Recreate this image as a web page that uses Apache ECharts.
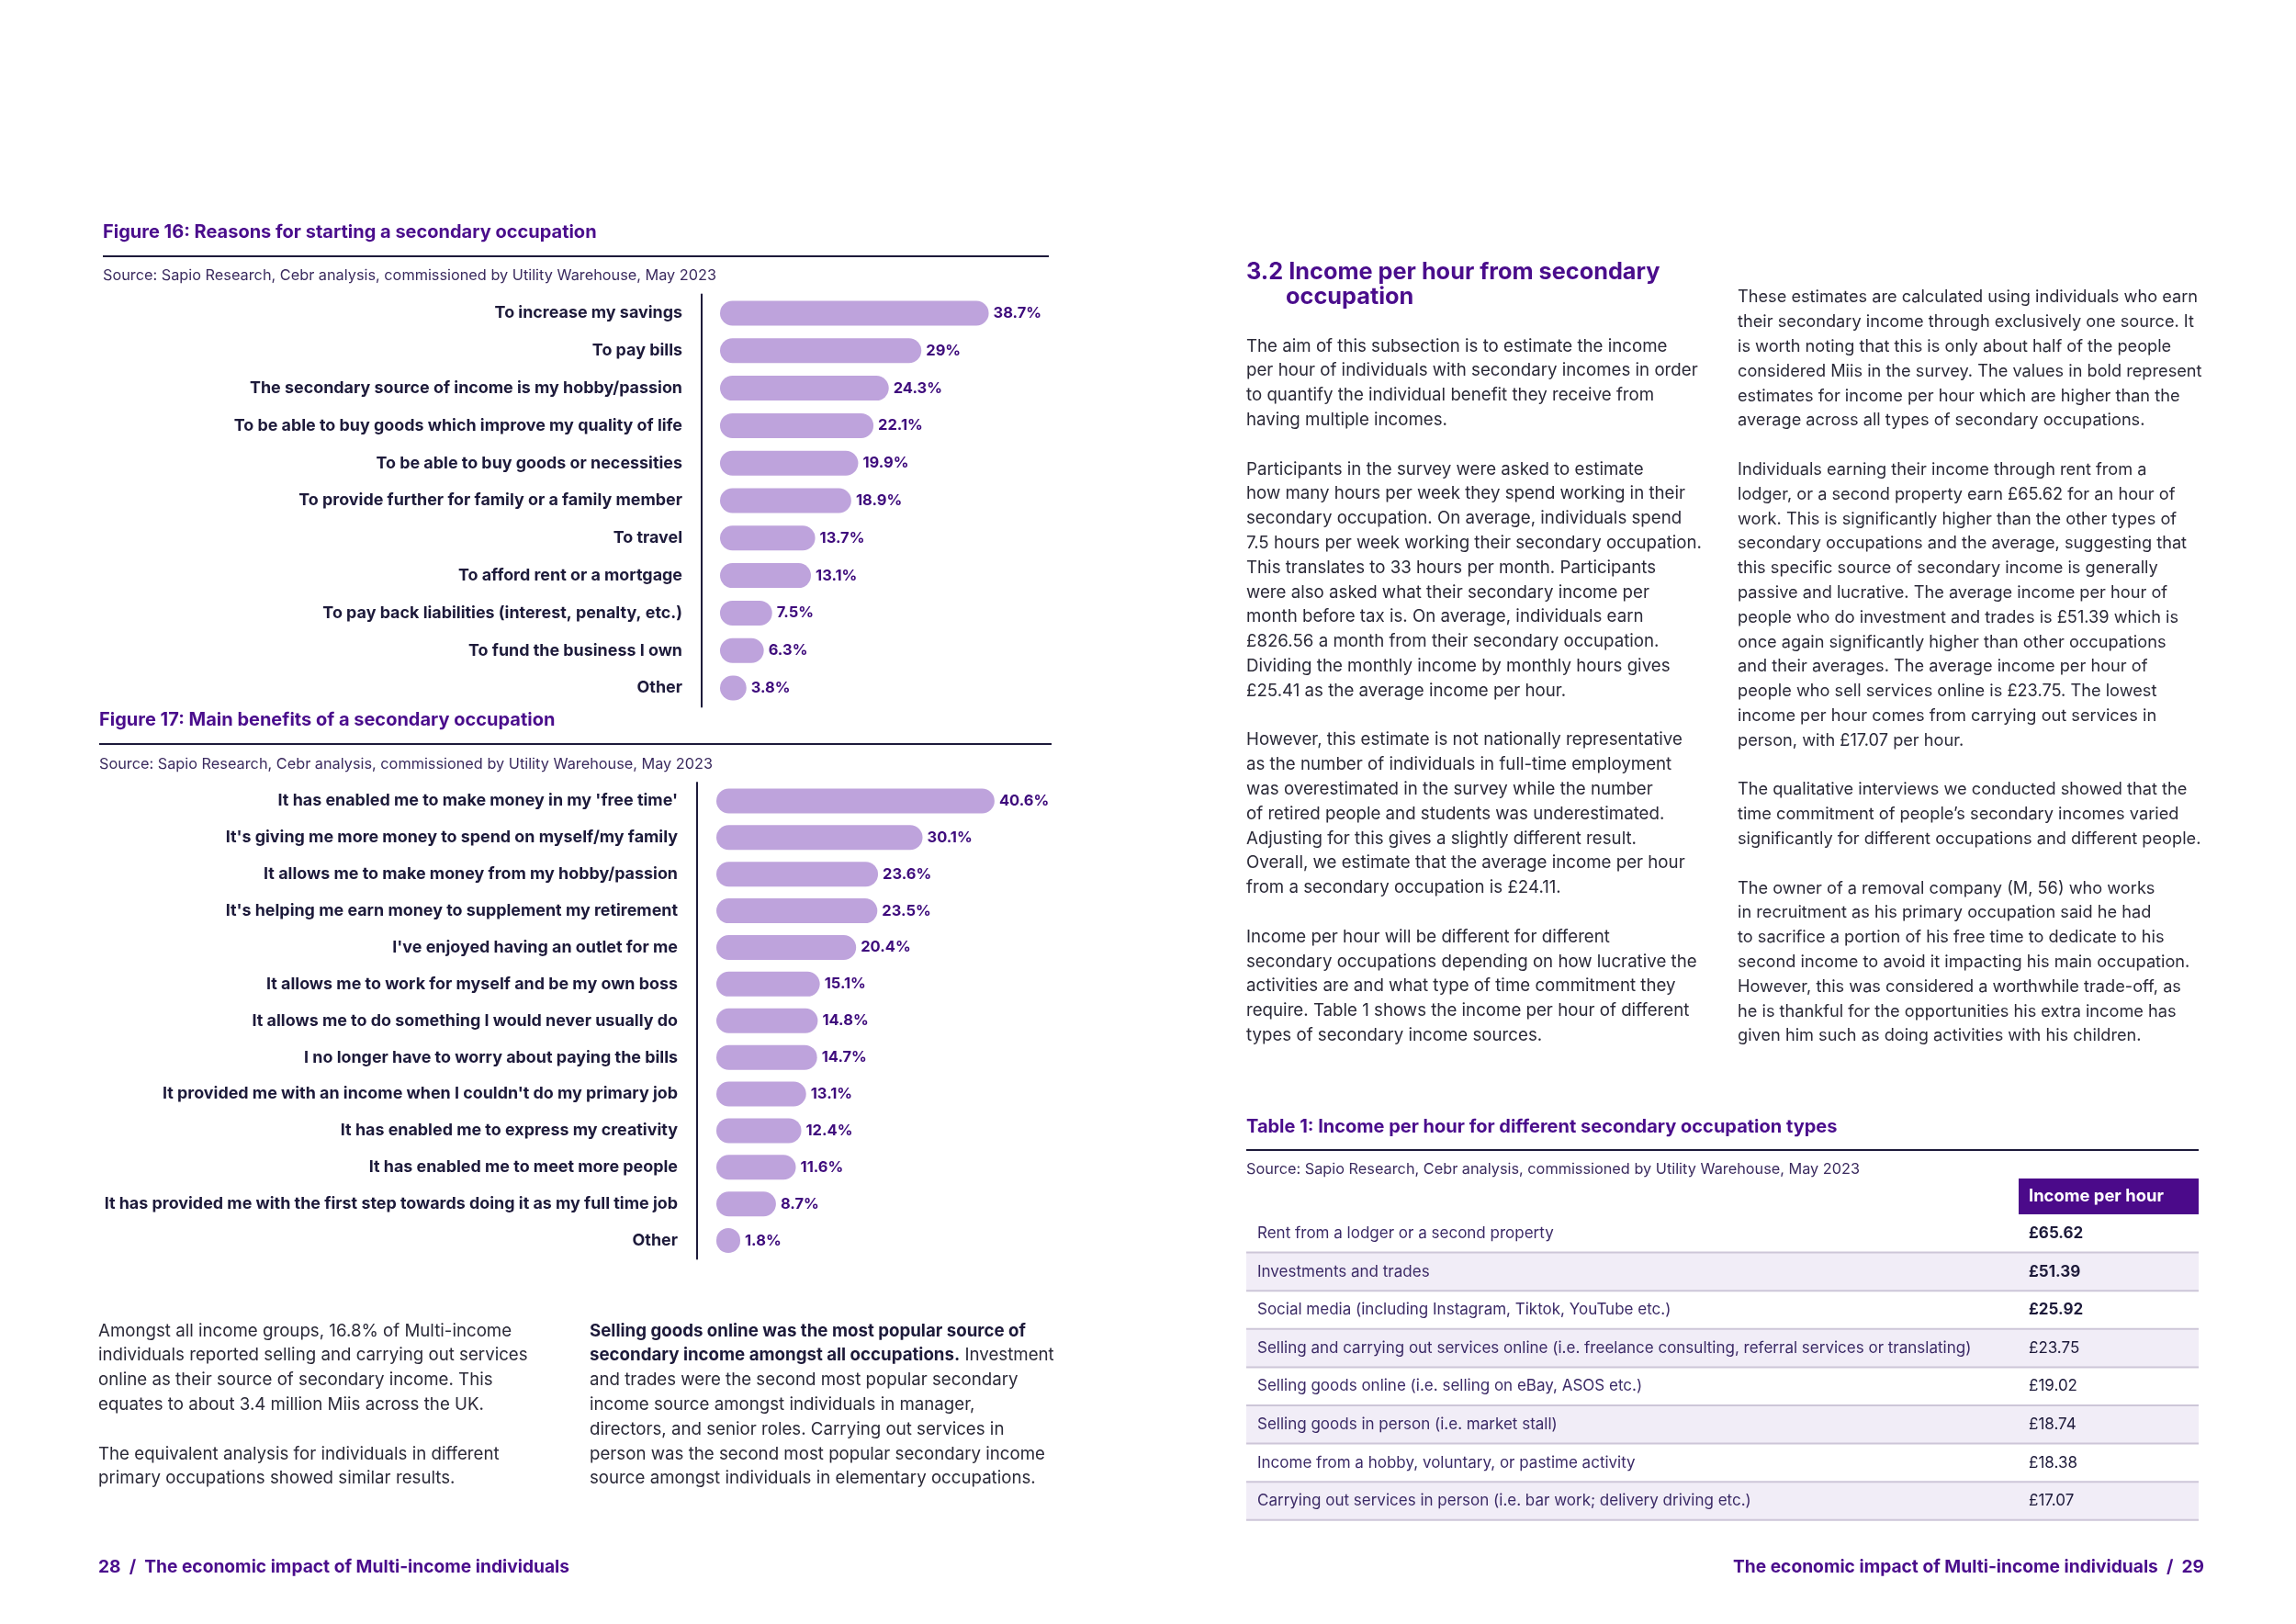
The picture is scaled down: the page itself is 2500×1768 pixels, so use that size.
<!DOCTYPE html>
<html><head><meta charset="utf-8">
<script src="https://cdn.jsdelivr.net/npm/echarts@6/dist/echarts.min.js"></script>
<style>html,body{margin:0;padding:0;background:#fff}#c{width:2500px;height:1768px}</style>
</head><body><div id="c"></div>
<script>
const fig16Categories = [
  "To increase my savings",
  "To pay bills",
  "The secondary source of income is my hobby/passion",
  "To be able to buy goods which improve my quality of life",
  "To be able to buy goods or necessities",
  "To provide further for family or a family member",
  "To travel",
  "To afford rent or a mortgage",
  "To pay back liabilities (interest, penalty, etc.)",
  "To fund the business I own",
  "Other"
];
const fig16Values = [38.7, 29, 24.3, 22.1, 19.9, 18.9, 13.7, 13.1, 7.5, 6.3, 3.8];

const fig17Categories = [
  "It has enabled me to make money in my 'free time'",
  "It's giving me more money to spend on myself/my family",
  "It allows me to make money from my hobby/passion",
  "It's helping me earn money to supplement my retirement",
  "I've enjoyed having an outlet for me",
  "It allows me to work for myself and be my own boss",
  "It allows me to do something I would never usually do",
  "I no longer have to worry about paying the bills",
  "It provided me with an income when I couldn't do my primary job",
  "It has enabled me to express my creativity",
  "It has enabled me to meet more people",
  "It has provided me with the first step towards doing it as my full time job",
  "Other"
];
const fig17Values = [40.6, 30.1, 23.6, 23.5, 20.4, 15.1, 14.8, 14.7, 13.1, 12.4, 11.6, 8.7, 1.8];

const tableCategories = [
  "Rent from a lodger or a second property",
  "Investments and trades",
  "Social media (including Instagram, Tiktok, YouTube etc.)",
  "Selling and carrying out services online (i.e. freelance consulting, referral services or translating)",
  "Selling goods online (i.e. selling on eBay, ASOS etc.)",
  "Selling goods in person (i.e. market stall)",
  "Income from a hobby, voluntary, or pastime activity",
  "Carrying out services in person (i.e. bar work; delivery driving etc.)"
];
const tableValues = [65.62, 51.39, 25.92, 23.75, 19.02, 18.74, 18.38, 17.07];
const averageIncomePerHour = 24.11;

const FONT = "Inter, sans-serif";
const PURPLE = '#4a0d8c';
const NAVY = '#1d1a3a';
const BAR = '#bea3dc';
const VAL = '#3e0b7c';
const BODY = '#2b2a38';
const SRC = '#3a2a5e';
const BODY_SIZE = 18.7;

function txt(x, y, text, o) {
  o = o || {};
  return {
    type: 'text', x: x, y: y, silent: true, z: 10,
    style: {
      text: text, fontFamily: FONT, fontSize: o.size || BODY_SIZE, fontWeight: o.weight || 'normal',
      fill: o.color || BODY, textAlign: o.align || 'left', align: o.align || 'left',
      textVerticalAlign: 'middle', verticalAlign: 'middle', rich: o.rich
    }
  };
}
function hline(x1, x2, y, color, w) {
  return { type: 'line', silent: true, z: 5, shape: { x1: x1, y1: y, x2: x2, y2: y }, style: { stroke: color, lineWidth: w } };
}
function para(x, y0, lh, lines, o) {
  const out = [];
  lines.forEach((l, i) => { if (l !== null) out.push(txt(x, y0 + i * lh, l, o)); });
  return out;
}

const graphics = [];
// Figure 16 header
graphics.push(txt(112, 253, 'Figure 16: Reasons for starting a secondary occupation', { size: 20, weight: 'bold', color: PURPLE }));
graphics.push(hline(112, 1142, 279, NAVY, 2));
graphics.push(txt(112, 300, 'Source: Sapio Research, Cebr analysis, commissioned by Utility Warehouse, May 2023', { size: 16.3, color: SRC }));
// Figure 17 header
graphics.push(txt(108, 784, 'Figure 17: Main benefits of a secondary occupation', { size: 20, weight: 'bold', color: PURPLE }));
graphics.push(hline(108, 1145, 810, NAVY, 2));
graphics.push(txt(108, 832, 'Source: Sapio Research, Cebr analysis, commissioned by Utility Warehouse, May 2023', { size: 16.3, color: SRC }));

// bottom-left text
const LH = 26.8;
graphics.push(...para(107, 1449, LH, [
  'Amongst all income groups, 16.8% of Multi-income',
  'individuals reported selling and carrying out services',
  'online as their source of secondary income. This',
  'equates to about 3.4 million Miis across the UK.',
  null,
  'The equivalent analysis for individuals in different',
  'primary occupations showed similar results.'
]));
graphics.push(txt(642, 1449, 'Selling goods online was the most popular source of', { weight: 'bold', color: NAVY }));
graphics.push(txt(642, 1449 + LH, '{b|secondary income amongst all occupations.} Investment', {
  rich: { b: { fontWeight: 'bold', fontFamily: FONT, fontSize: BODY_SIZE, fill: NAVY } }
}));
graphics.push(...para(642, 1449 + 2 * LH, LH, [
  'and trades were the second most popular secondary',
  'income source amongst individuals in manager,',
  'directors, and senior roles. Carrying out services in',
  'person was the second most popular secondary income',
  'source amongst individuals in elementary occupations.'
]));
// footers
graphics.push(txt(107, 1706, '28  /  The economic impact of Multi-income individuals', { size: 19.2, weight: 'bold', color: PURPLE }));
graphics.push(txt(2400, 1706, 'The economic impact of Multi-income individuals  /  29', { size: 19.2, weight: 'bold', color: PURPLE, align: 'right' }));

// right page heading
graphics.push(txt(1357, 296, '3.2 Income per hour from secondary', { size: 25.3, weight: 'bold', color: PURPLE }));
graphics.push(txt(1400, 323, 'occupation', { size: 25.3, weight: 'bold', color: PURPLE }));

graphics.push(...para(1357, 377, LH, [
  'The aim of this subsection is to estimate the income',
  'per hour of individuals with secondary incomes in order',
  'to quantify the individual benefit they receive from',
  'having multiple incomes.',
  null,
  'Participants in the survey were asked to estimate',
  'how many hours per week they spend working in their',
  'secondary occupation. On average, individuals spend',
  '7.5 hours per week working their secondary occupation.',
  'This translates to 33 hours per month. Participants',
  'were also asked what their secondary income per',
  'month before tax is. On average, individuals earn',
  '£826.56 a month from their secondary occupation.',
  'Dividing the monthly income by monthly hours gives',
  '£25.41 as the average income per hour.',
  null,
  'However, this estimate is not nationally representative',
  'as the number of individuals in full-time employment',
  'was overestimated in the survey while the number',
  'of retired people and students was underestimated.',
  'Adjusting for this gives a slightly different result.',
  'Overall, we estimate that the average income per hour',
  'from a secondary occupation is £24.11.',
  null,
  'Income per hour will be different for different',
  'secondary occupations depending on how lucrative the',
  'activities are and what type of time commitment they',
  'require. Table 1 shows the income per hour of different',
  'types of secondary income sources.'
]));
graphics.push(...para(1892, 324, LH, [
  'These estimates are calculated using individuals who earn',
  'their secondary income through exclusively one source. It',
  'is worth noting that this is only about half of the people',
  'considered Miis in the survey. The values in bold represent',
  'estimates for income per hour which are higher than the',
  'average across all types of secondary occupations.',
  null,
  'Individuals earning their income through rent from a',
  'lodger, or a second property earn £65.62 for an hour of',
  'work. This is significantly higher than the other types of',
  'secondary occupations and the average, suggesting that',
  'this specific source of secondary income is generally',
  'passive and lucrative. The average income per hour of',
  'people who do investment and trades is £51.39 which is',
  'once again significantly higher than other occupations',
  'and their averages. The average income per hour of',
  'people who sell services online is £23.75. The lowest',
  'income per hour comes from carrying out services in',
  'person, with £17.07 per hour.',
  null,
  'The qualitative interviews we conducted showed that the',
  'time commitment of people\u2019s secondary incomes varied',
  'significantly for different occupations and different people.',
  null,
  'The owner of a removal company (M, 56) who works',
  'in recruitment as his primary occupation said he had',
  'to sacrifice a portion of his free time to dedicate to his',
  'second income to avoid it impacting his main occupation.',
  'However, this was considered a worthwhile trade-off, as',
  'he is thankful for the opportunities his extra income has',
  'given him such as doing activities with his children.'
], { size: 18.2 }));

// Table 1
const TL = 1357, TR = 2394;
graphics.push(txt(TL, 1227, 'Table 1: Income per hour for different secondary occupation types', { size: 20, weight: 'bold', color: PURPLE }));
graphics.push(hline(TL, TR, 1252, NAVY, 2));
graphics.push(txt(TL, 1273, 'Source: Sapio Research, Cebr analysis, commissioned by Utility Warehouse, May 2023', { size: 16.3, color: SRC }));
graphics.push({ type: 'rect', silent: true, z: 4, shape: { x: 2198, y: 1283, width: TR - 2198, height: 39 }, style: { fill: '#4b0a8a' } });
graphics.push(txt(2209, 1302.5, 'Income per hour', { size: 18.4, weight: 'bold', color: '#ffffff' }));
const rowTop = 1322, rowH = 41.6;
tableCategories.forEach((name, i) => {
  const y0 = rowTop + i * rowH;
  if (i % 2 === 1) graphics.push({ type: 'rect', silent: true, z: 3, shape: { x: TL, y: y0, width: TR - TL, height: rowH }, style: { fill: '#f1edf7' } });
  graphics.push(hline(TL, TR, y0 + rowH, '#cdc6d8', 2));
  graphics.push(txt(1369, y0 + rowH / 2, name, { size: 17, color: '#3b2a66' }));
  const v = tableValues[i];
  graphics.push(txt(2209, y0 + rowH / 2, '£' + v.toFixed(2), { size: 17, color: NAVY, weight: v > averageIncomePerHour ? 'bold' : 'normal' }));
});

// Chart scales
const s16 = 7.56, gap16 = 20, s17 = 7.46, gap17 = 21, xMax = 50;
const min16 = -gap16 / s16, min17 = -gap17 / s17;

function catAxis(grid, data, margin) {
  return {
    type: 'category', gridIndex: grid, data: data, inverse: true,
    axisLine: { show: true, onZero: false, lineStyle: { color: NAVY, width: 2 } },
    axisTick: { show: false },
    axisLabel: { interval: 0, margin: margin, fontFamily: FONT, fontSize: 17.9, fontWeight: 'bold', color: NAVY }
  };
}
function barSeries(idx, data) {
  return {
    type: 'bar', xAxisIndex: idx, yAxisIndex: idx, data: data, barWidth: 27, barMinHeight: 26,
    itemStyle: { color: BAR, borderRadius: 13.5 },
    label: { show: true, position: 'right', distance: 5, formatter: '{c}%', fontFamily: FONT, fontSize: 16.5, fontWeight: 'bold', color: VAL },
    silent: true
  };
}

const option = {
  animation: false,
  backgroundColor: '#ffffff',
  grid: [
    { left: 764, top: 320.6, width: (xMax - min16) * s16, height: 448.8 },
    { left: 759, top: 852, width: (xMax - min17) * s17, height: 518.5 }
  ],
  xAxis: [
    { type: 'value', gridIndex: 0, min: min16, max: xMax, show: false },
    { type: 'value', gridIndex: 1, min: min17, max: xMax, show: false }
  ],
  yAxis: [catAxis(0, fig16Categories, 21), catAxis(1, fig17Categories, 21)],
  series: [barSeries(0, fig16Values), barSeries(1, fig17Values)],
  graphic: graphics
};
const chart = echarts.init(document.getElementById('c'), null, { renderer: 'canvas' });
chart.setOption(option);
</script></body></html>
